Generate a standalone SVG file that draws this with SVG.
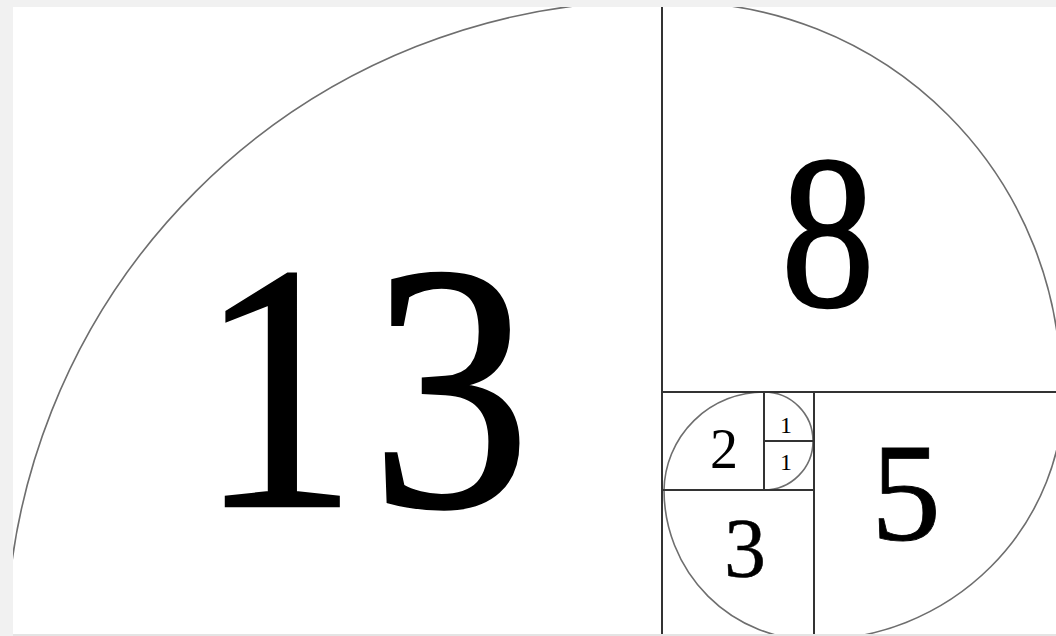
<svg xmlns="http://www.w3.org/2000/svg" width="1056" height="636" viewBox="0 0 1056 636">
  <style>
    .grid { stroke: #333333; stroke-width: 2; fill: none; }
    .arc { stroke: #6e6e6e; stroke-width: 1.6; fill: none; }
    .num { font-family: "Liberation Serif", "Times New Roman", serif; fill: #000; text-anchor: middle; }
    .heavy { stroke: #000; stroke-width: 2.5; }
  </style>
  <defs>
    <clipPath id="paper">
      <rect x="13" y="7" width="1043" height="627"/>
    </clipPath>
  </defs>
  <rect x="0" y="0" width="1056" height="636" fill="#f1f1f1"/>
  <rect x="13" y="7" width="1043" height="627" fill="#ffffff"/>
  <g clip-path="url(#paper)">
    <g id="spiral">
      <path class="arc" d="M 6 650 A 649 649 0 0 1 655 1"/>
      <path class="arc" d="M 675 2 A 386 386 0 0 1 1061 388"/>
      <path class="arc" d="M 1064 390 A 250 250 0 0 1 814 640"/>
      <path class="arc" d="M 814 640 A 150 150 0 0 1 664 490"/>
      <path class="arc" d="M 664 490 A 100 100 0 0 1 764 392"/>
      <path class="arc" d="M 764 392 A 49 49 0 0 1 764 490"/>
    </g>
    <g id="grid">
      <line class="grid" x1="662" y1="0" x2="662" y2="636"/>
      <line class="grid" x1="662" y1="392" x2="1056" y2="392"/>
      <line class="grid" x1="764" y1="392" x2="764" y2="490"/>
      <line class="grid" x1="662" y1="490" x2="814" y2="490"/>
      <line class="grid" x1="814" y1="392" x2="814" y2="636"/>
      <line class="grid" x1="764" y1="441" x2="814" y2="441"/>
    </g>
  </g>
  <rect x="13" y="634" width="1043" height="2" fill="#e4e4e4"/>
  <g id="sq13"><text class="num heavy" x="363" y="506" font-size="352" transform="translate(377.5 0) scale(0.91 1) translate(-377.5 0)">1<tspan dx="14">3</tspan></text></g>
  <g id="sq8"><text class="num heavy" x="828" y="306" font-size="218" stroke-width="1.5" transform="translate(828 0) scale(0.86 1) translate(-828 0)">8</text></g>
  <g id="sq5"><text class="num" x="906" y="540" font-size="140" stroke="#000" stroke-width="0.8">5</text></g>
  <g id="sq3"><text class="num" x="745" y="577" font-size="84" stroke="#000" stroke-width="0.5">3</text></g>
  <g id="sq2"><text class="num" x="724" y="468" font-size="56">2</text></g>
  <g id="sq1a"><text class="num" x="786" y="433" font-size="24">1</text></g>
  <g id="sq1b"><text class="num" x="786" y="470" font-size="24">1</text></g>
</svg>
